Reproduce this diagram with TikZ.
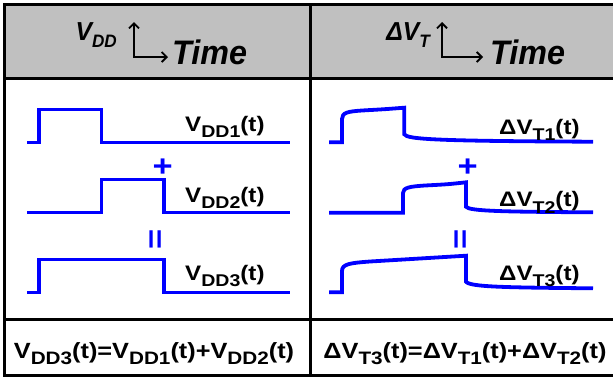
\documentclass[tikz,border=0pt]{standalone}
\usepackage{fontspec}
\setmainfont{Liberation Sans}
\newfontfamily\bodyfont[FakeStretch=1.15]{Liberation Sans}
\newfontfamily\headfont[FakeStretch=0.95]{Liberation Sans}
\usetikzlibrary{arrows.meta}
\definecolor{wblue}{HTML}{0000FF}
\definecolor{hgray}{HTML}{C0C0C0}
\newcommand\dn[2]{\raisebox{-0.3em}{\fontsize{#1}{#1}\selectfont #2}}
\tikzset{
  grid/.style={line width=3pt,draw=black},
  wv/.style={draw=wblue,line width=3.2pt},
  cv/.style={draw=wblue,line width=3.8pt},
  lbl/.style={font=\bodyfont\bfseries\fontsize{21}{24}\selectfont,inner sep=0pt},
  fml/.style={font=\bodyfont\bfseries\fontsize{22}{26}\selectfont,inner sep=0pt},
  sym/.style={font=\bodyfont\bfseries\fontsize{30}{30}\selectfont,text=wblue,inner sep=0pt},
  hd/.style={font=\headfont\bfseries\itshape\fontsize{26}{30}\selectfont,inner sep=0pt},
  hdt/.style={font=\headfont\bfseries\itshape\fontsize{34}{38}\selectfont,inner sep=0pt},
  axarr/.style={{Straight Barb[length=5pt,width=10pt]}-{Straight Barb[length=5pt,width=10pt]},line width=1.8pt},
}
\begin{document}
\begin{tikzpicture}[x=1pt,y=-1pt]
  \useasboundingbox (0,0) rectangle (613,381);
  % table
  \fill[hgray] (4.5,4.5) rectangle (613,78.5);
  \draw[grid] (613,4.5) -- (4.5,4.5) -- (4.5,375.5) -- (613,375.5);
  \draw[grid] (4.5,78.5) -- (613,78.5);
  \draw[grid] (4.5,319.5) -- (613,319.5);
  \draw[grid] (310,4.5) -- (310,375.5);
  % header
  \node[hd,anchor=base east] (hvdd) at (117,40) {V\dn{18}{DD}};
  \draw[axarr] (134,22) -- (134,57) -- (168,57);
  \node[hdt,anchor=base west] (htimeL) at (172,64) {Time};
  \node[hd,anchor=base east] (hdvt) at (430,40) {ΔV\dn{18}{T}};
  \draw[axarr] (442,22) -- (442,57) -- (483,57);
  \node[hdt,anchor=base west] (htimeR) at (490,64) {Time};
  % supply pulses
  \foreach \y/\a/\b/\n/\yb in {142.5/39/101.7/1/131.5,212.7/101.7/164/2/202,292.3/39/164/3/280} {
    \draw[wv] (27,\y) -- (\a,\y) -- (\a,\y-33) -- (\b,\y-33) -- (\b,\y) -- (290,\y);
    \node[lbl,anchor=base west] (vdd\n) at (185,\yb) {V\dn{17}{DD\n}(t)};
  }
  \node[sym] (plusL) at (162.7,168) {+};
  \node[sym,rotate=90] (eqL) at (158,239) {=};
  % threshold shifts
  \draw[cv] (329,142.3) -- (342,142.3) -- (342,119) .. controls (342,112.5) and (348,111.5) .. (362,110.5)
    .. controls (385,109.2) .. (404.3,107.7) -- (404.3,134.3)
    .. controls (407,139.5) and (440,141) .. (593,141.7);
  \draw[cv] (329,212.7) -- (403,212.7) -- (403,193) .. controls (403,187.5) and (410,186.5) .. (425,185.5)
    .. controls (448,184.3) .. (466,182.3) -- (466,206.7)
    .. controls (469,211) and (500,211.8) .. (593,212.3);
  \draw[cv] (329,292.3) -- (342,292.3) -- (342,271) .. controls (342,264) and (350,263) .. (370,261.5)
    .. controls (420,258.5) .. (466,255.7) -- (466,281.7)
    .. controls (470,287) and (505,287.5) .. (593,288.3);
  \node[lbl,anchor=base west] (dvt1) at (499,134.3) {ΔV\dn{17}{T1}(t)};
  \node[lbl,anchor=base west] (dvt2) at (499,206.7) {ΔV\dn{17}{T2}(t)};
  \node[lbl,anchor=base west] (dvt3) at (499,280) {ΔV\dn{17}{T3}(t)};
  \node[sym] (plusR) at (467.7,168) {+};
  \node[sym,rotate=90] (eqR) at (462.3,239) {=};
  % sums
  \node[fml,anchor=base] (sumV) at (154,358) {V\dn{18}{DD3}(t)=V\dn{18}{DD1}(t)+V\dn{18}{DD2}(t)};
  \node[fml,anchor=base] (sumT) at (465,358) {ΔV\dn{18}{T3}(t)=ΔV\dn{18}{T1}(t)+ΔV\dn{18}{T2}(t)};
\end{tikzpicture}
\end{document}
